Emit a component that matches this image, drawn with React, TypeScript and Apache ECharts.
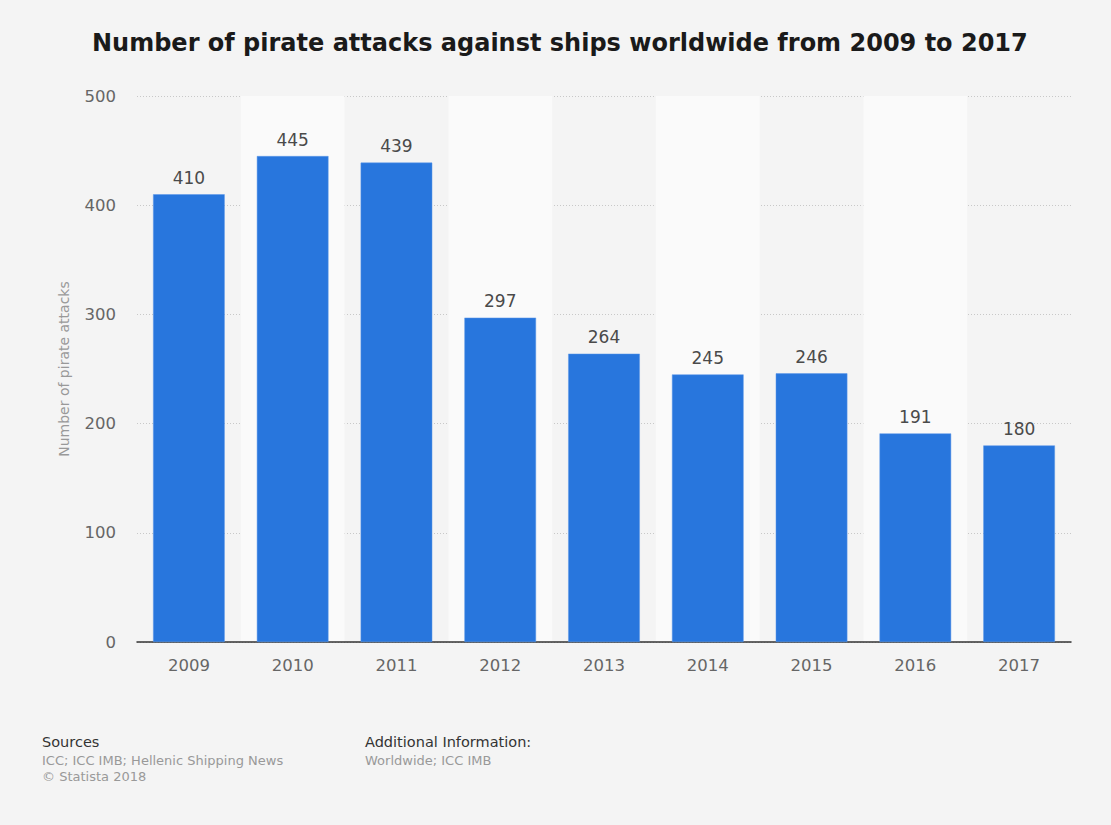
import React, { useEffect, useRef } from "react";
import * as echarts from "echarts";

const years = ["2009", "2010", "2011", "2012", "2013", "2014", "2015", "2016", "2017"];
const attacks = [410, 445, 439, 297, 264, 245, 246, 191, 180];
const yTicks = { min: 0, max: 500, interval: 100 };

const titleText = "Number of pirate attacks against ships worldwide from 2009 to 2017";
const yAxisName = "Number of pirate attacks";
const sourcesLines = ["ICC; ICC IMB; Hellenic Shipping News", "© Statista 2018"];
const addInfoLines = ["Worldwide; ICC IMB"];

const FONT = "DejaVu Sans";

export default function App() {
  const ref = useRef<HTMLDivElement>(null);
  useEffect(() => {
    document.body.style.margin = "0";
    const chart = echarts.init(ref.current!, null, { renderer: "svg" });
    chart.setOption({
      animation: false,
      backgroundColor: "#f4f4f4",
      textStyle: { fontFamily: FONT },
      title: {
        text: titleText,
        left: 87,
        top: 26,
        textStyle: { fontFamily: FONT, fontWeight: "bold", fontSize: 24, color: "#1a1a1a" },
      },
      grid: { left: 137, right: 40, top: 96, bottom: 183 },
      xAxis: {
        type: "category",
        data: years,
        axisLine: { lineStyle: { color: "#333", width: 1.5 } },
        axisTick: { show: false },
        axisLabel: { color: "#666", fontSize: 16.5, margin: 15, fontFamily: FONT },
        splitArea: { show: true, areaStyle: { color: ["rgba(0,0,0,0)", "#fafafa"] } },
      },
      yAxis: {
        type: "value",
        min: yTicks.min,
        max: yTicks.max,
        interval: yTicks.interval,
        name: yAxisName,
        nameLocation: "middle",
        nameGap: 66,
        nameTextStyle: { color: "#999", fontSize: 14, fontFamily: FONT },
        axisLine: { show: false },
        axisTick: { show: false },
        axisLabel: { color: "#666", fontSize: 16.5, margin: 21, fontFamily: FONT },
        splitLine: { lineStyle: { color: "#c8c8c8", type: [1, 2], width: 1 } },
      },
      series: [
        {
          type: "bar",
          data: attacks,
          barWidth: "69%",
          itemStyle: { color: "#2876dd", borderColor: "#5a97e8", borderWidth: 0.5 },
          label: {
            show: true,
            position: "top",
            distance: 8,
            color: "#4a4a4a",
            fontSize: 17,
            fontFamily: FONT,
          },
          z: 3,
        },
      ],
      graphic: [
        {
          type: "text",
          left: 42,
          top: 734,
          style: { text: "Sources", fill: "#333", font: `14.5px "${FONT}"` },
        },
        {
          type: "text",
          left: 42,
          top: 752,
          style: { text: sourcesLines.join("\n"), fill: "#999", font: `13px "${FONT}"`, lineHeight: 16 },
        },
        {
          type: "text",
          left: 365,
          top: 734,
          style: { text: "Additional Information:", fill: "#333", font: `14.5px "${FONT}"` },
        },
        {
          type: "text",
          left: 365,
          top: 752,
          style: { text: addInfoLines.join("\n"), fill: "#999", font: `13px "${FONT}"`, lineHeight: 16 },
        },
      ],
    });
    return () => chart.dispose();
  }, []);
  return <div ref={ref} style={{ width: 1111, height: 825 }} />;
}
